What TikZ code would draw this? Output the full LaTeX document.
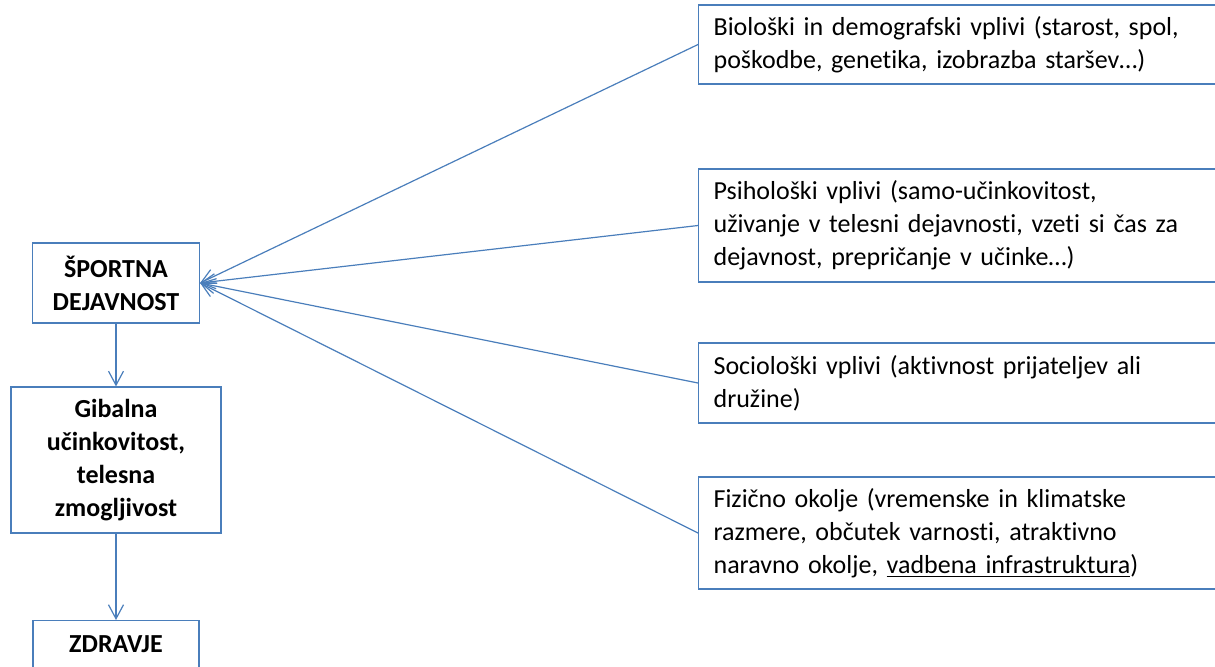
\documentclass[tikz,border=0pt]{standalone}
\usepackage{fontspec}
\setmainfont{Carlito}[Ligatures=NoCommon]
\usepackage{tikz}
\usetikzlibrary{arrows.meta}
\definecolor{lblue}{RGB}{74,126,187}
\tikzset{box/.style = {draw=lblue, line width=0.6pt, align=center, font=\bfseries\fontsize{13pt}{16.5pt}\selectfont}}
\tikzset{infobox/.style = {draw=lblue, line width=0.6pt, anchor=west, text width=247pt, align=left, inner xsep=7.5pt, font=\fontsize{13pt}{16.5pt}\selectfont}}
\tikzset{link/.style = {draw=lblue, line width=0.6pt, -{Straight Barb[length=7pt, width=7.5pt]}}}

\begin{document}
\begin{tikzpicture}[x=0.5pt, y=-0.5pt]
    \useasboundingbox (0, 0) rectangle (1215, 666);
    \clip (0, 0) rectangle (1215, 666);

    \node [box, minimum width=83.5pt, minimum height=40pt] (sport) at (116, 283) {ŠPORTNA\\DEJAVNOST};
    \node [box, minimum width=105pt, minimum height=73pt] (gibalna) at (116, 460) {Gibalna\\učinkovitost,\\telesna\\zmogljivost};
    \node [box, anchor=north, minimum width=83pt, text height=12.5pt, text depth=30pt] (zdravje) at (116, 620) {ZDRAVJE};

    \node [infobox, minimum height=39.5pt] (bio) at (698, 44.5) {Biološki in demografski vplivi (starost, spol,\\poškodbe, genetika, izobrazba staršev…)};
    \node [infobox, minimum height=56.5pt] (psiho) at (698, 225.5) {Psihološki vplivi (samo-učinkovitost,\\uživanje v telesni dejavnosti, vzeti si čas za\\dejavnost, prepričanje v učinke…)};
    \node [infobox, minimum height=40pt] (socio) at (698, 383) {Sociološki vplivi (aktivnost prijateljev ali\\družine)};
    \node [infobox, minimum height=56pt] (fiz) at (698, 533) {Fizično okolje (vremenske in klimatske\\razmere, občutek varnosti, atraktivno\\naravno okolje, \underline{vadbena infrastruktura})};

    \draw [link] (sport) -- (gibalna);
    \draw [link] (gibalna) -- (zdravje);
    \draw [link] (bio.west) -- (sport.east);
    \draw [link] (psiho.west) -- (sport.east);
    \draw [link] (socio.west) -- (sport.east);
    \draw [link] (fiz.west) -- (sport.east);
  \end{tikzpicture}
\end{document}
